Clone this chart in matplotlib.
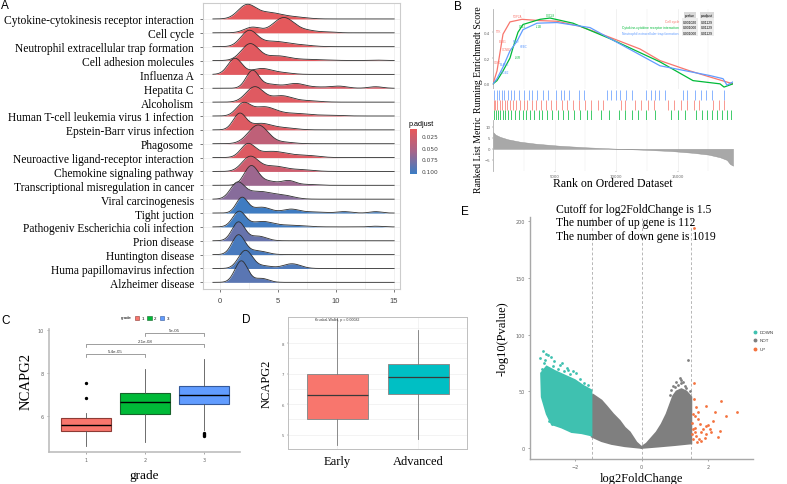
import numpy as np
import matplotlib.pyplot as plt
from matplotlib.colors import LinearSegmentedColormap, Normalize
from matplotlib.cm import ScalarMappable

W, H = 787, 485
SERIF = "Liberation Serif"
SANS = "Liberation Sans"

# ---------------- data : panel A (ridges) ----------------
pathways = ["Cytokine-cytokinesis receptor interaction", "Cell cycle",
            "Neutrophil extracellular trap formation", "Cell adhesion molecules",
            "Influenza A", "Hepatita C", "Alcoholism",
            "Human T-cell leukemia virus 1 infection", "Epstein-Barr virus infection",
            "Phagosome", "Neuroactive ligand-receptor interaction",
            "Chemokine signaling pathway", "Transcriptional misregulation in cancer",
            "Viral carcinogenesis", "Tight juction", "Pathogeniv Escherichia coli infection",
            "Prion disease", "Huntington disease", "Huma papillomavirus infection",
            "Alzheimer disease"]
padj = [0.012, 0.012, 0.014, 0.015, 0.015, 0.022, 0.017, 0.018, 0.018, 0.040,
        0.018, 0.030, 0.062, 0.072, 0.104, 0.103, 0.086, 0.100, 0.098, 0.092]
# peaks of each ridge: (centre, height in rows, width)
ridge_peaks = [
    [(2.3, 0.95, 0.75), (4.2, 0.45, 1.1), (6.5, 0.12, 1.0)],
    [(2.8, 0.40, 0.7), (5.5, 1.10, 0.9), (7.6, 0.15, 0.8), (9.4, 0.06, 0.6)],
    [(2.5, 1.10, 0.7), (4.6, 0.38, 1.2), (7.0, 0.10, 1.0)],
    [(2.6, 1.20, 0.75), (4.9, 0.32, 1.0), (7.5, 0.08, 1.5), (13.4, 0.03, 0.6)],
    [(1.3, 1.15, 0.6), (3.6, 0.42, 0.9), (5.5, 0.10, 0.8)],
    [(2.8, 1.25, 0.55), (4.3, 0.28, 0.8), (6.5, 0.33, 0.8), (8.5, 0.08, 1.0),
     (10.3, 0.14, 0.7), (13.4, 0.11, 0.6)],
    [(3.0, 1.10, 0.75), (5.3, 0.45, 0.9), (7.5, 0.10, 1.0)],
    [(2.0, 0.85, 0.6), (3.8, 0.65, 1.0), (6.5, 0.18, 1.2), (9.5, 0.05, 1.0)],
    [(1.7, 1.15, 0.55), (3.5, 0.45, 0.9), (5.5, 0.14, 1.0)],
    [(3.3, 1.35, 0.85), (5.6, 0.10, 0.8)],
    [(2.4, 0.90, 0.6), (4.5, 0.45, 1.3), (7.5, 0.14, 1.0)],
    [(2.6, 1.05, 0.7), (4.6, 0.38, 1.0), (7.0, 0.12, 1.0)],
    [(2.7, 1.40, 0.6), (4.2, 0.28, 0.7), (5.9, 0.33, 0.6), (7.5, 0.06, 0.8)],
    [(1.5, 1.10, 0.6), (3.3, 0.55, 1.1), (5.5, 0.24, 0.9)],
    [(1.9, 1.10, 0.5), (3.6, 0.42, 0.8), (6.1, 0.27, 0.7), (8.0, 0.08, 1.0),
     (10.7, 0.10, 0.6), (13.4, 0.10, 0.5)],
    [(1.65, 1.10, 0.55), (3.6, 0.38, 0.9), (6.0, 0.12, 1.2), (13.4, 0.05, 0.5)],
    [(1.6, 1.35, 0.55), (3.3, 0.33, 0.7)],
    [(1.6, 1.40, 0.55), (3.2, 0.28, 0.8)],
    [(2.2, 1.30, 0.6), (3.8, 0.18, 0.7), (6.2, 0.34, 0.75)],
    [(1.85, 1.55, 0.55), (3.6, 0.28, 0.6)],
]
padj_ticks = [0.025, 0.050, 0.075, 0.100]

# ---------------- data : panel B (GSEA) ----------------
gsea_names = ["Cell cycle", "Cytokine-cytokine receptor interaction",
              "Neutrophil extracellular trap formation"]
gsea_colors = ["#F8766D", "#00BA38", "#619CFF"]
gsea_pvalue = ["0.001020", "0.001000", "0.001000"]
gsea_padj = ["0.01129", "0.01129", "0.01129"]
es_rank = [
    [0, 325, 812, 1381, 2356, 3819, 5200, 7069, 9506, 11944, 13569, 16006, 17875, 19500],
    [0, 325, 812, 1381, 1625, 2031, 2437, 3819, 4631, 6500, 9506, 13569, 16250, 18444, 18769, 19500],
    [0, 325, 812, 1381, 1950, 2437, 3575, 5200, 7881, 13569, 17631, 18687, 19012, 19500],
]
es_score = [
    [0, 0.10, 0.385, 0.48, 0.50, 0.49, 0.485, 0.446, 0.36, 0.27, 0.18, 0.10, 0.046, 0.0],
    [0, 0.025, 0.10, 0.20, 0.28, 0.40, 0.46, 0.50, 0.51, 0.47, 0.35, 0.17, 0.025, 0.0, -0.025, 0.0],
    [0, 0.04, 0.13, 0.256, 0.33, 0.42, 0.47, 0.475, 0.436, 0.14, 0.064, 0.04, -0.01, 0.015],
]
hits_cell_cycle = [50, 200, 350, 550, 750, 950, 1150, 1400, 1650, 1900, 2200, 2500, 2800,
                   3200, 3500, 3900, 4300, 4700, 5100, 5600, 6000, 6500, 7000, 7500, 8000,
                   8500, 8900, 10400, 10700, 11500, 12000, 12600, 13100, 14200, 14700,
                   15300, 15800, 16300, 16700, 17900, 18400, 18800]
hits_cytokine = [100, 250, 400, 600, 800, 1000, 1200, 1500, 1800, 2100, 2400, 2700, 3000,
                 3300, 3700, 4000, 4400, 4800, 5300, 5700, 6100, 6600, 7100, 7600, 8000,
                 8800, 9400, 10200, 10700, 11300, 11800, 12400, 13200, 14500, 15000,
                 15600, 16500, 17000, 17400, 17800, 18200, 18600, 19000, 19300]
hits_neutrophil = [100, 300, 500, 700, 900, 1200, 1500, 1700, 2100, 2500, 2900, 3200,
                   3600, 4100, 4500, 5100, 5500, 5800, 6200, 7000, 7400, 9300, 9600,
                   10000, 10300, 10800, 11300, 12400, 12800, 13200, 13500, 14000, 15400,
                   15800, 16400, 16900, 17300, 17800, 18800]
metric_rank = [0, 200, 570, 1200, 2200, 3500, 5400, 7500, 10300, 12200, 14500, 16250,
               17500, 18440, 19000, 19250, 19500]
metric_value = [7.6, 6.4, 5.4, 4.3, 3.2, 2.3, 1.4, 0.7, 0.0, -0.4, -1.0, -1.8, -2.6,
                -3.8, -5.0, -6.8, -7.6]
gene_labels = [("TOP2A", 2000, 0.525, 0), ("TTK", 450, 0.41, 0), ("BUB1", 750, 0.33, 0),
               ("CCNB1", 1100, 0.27, 0), ("CDK1", 350, 0.17, 0),
               ("CXCL8", 4700, 0.535, 1), ("CCL5", 2400, 0.445, 1), ("IL1B", 3700, 0.445, 1),
               ("IL6R", 2000, 0.205, 1),
               ("MPO", 1900, 0.335, 2), ("H2BC", 2500, 0.29, 2), ("ELANE", 900, 0.15, 2),
               ("ITGB2", 1000, 0.09, 2)]

# ---------------- data : panel C (grade boxplot) ----------------
grades = ["1", "2", "3"]
grade_colors = ["#F8766D", "#00BA38", "#619CFF"]
grade_edges = ["#8E3B35", "#17632B", "#34599A"]
c_med = [5.62, 6.68, 7.01]
c_q1 = [5.32, 6.09, 6.57]
c_q3 = [5.94, 7.09, 7.43]
c_lo = [4.63, 4.82, 5.36]
c_hi = [6.17, 8.20, 8.67]
c_fliers = [[6.86, 7.55], [], [5.22, 5.17, 5.12, 5.07]]
brackets = [(1, 2, 8.90, "5.4e-05"), (1, 3, 9.34, "2.1e-08"), (2, 3, 9.87, "5e-05")]

# ---------------- data : panel D (stage boxplot) ----------------
stages = ["Early", "Advanced"]
stage_colors = ["#F8766D", "#00BFC4"]
d_med = [6.31, 6.89]
d_q1 = [5.53, 6.34]
d_q3 = [6.98, 7.33]
d_lo = [4.67, 4.86]
d_hi = [8.82, 8.42]

# ---------------- data : panel E (volcano) ----------------
down_poly_x = [-3.02, -2.85, -2.6, -2.3, -2.0, -1.75, -1.5, -1.5, -1.8, -2.1, -2.4, -2.7,
               -2.85, -3.0]
down_poly_y = [66, 72, 68, 64, 60, 55, 51, 11, 13, 14, 18, 21, 30, 45]
down_x = [-2.95, -2.88, -2.8, -2.72, -3.05, -2.92, -2.62, -2.45, -2.52, -2.25, -2.05,
          -2.15, -1.85, -1.72, -1.98, -2.66, -3.0, -2.32, -2.78, -2.7, -2.58, -1.62,
          -2.4, -2.9, -2.2]
down_y = [86, 83, 82, 80, 79, 75, 77, 73, 70, 71, 68, 65, 61, 57, 66, 72, 70, 68, 24,
          21, 26, 56, 75, 78, 69]
not_left_x = [-1.5, -1.45, -1.2, -1.05, -0.85, -0.65, -0.5, -0.35, -0.15, 0.0, 0.0,
              -0.5, -0.9, -1.2, -1.5]
not_left_y = [46, 47, 42, 37, 30, 24, 18, 14, 5, 1, 0, 1.5, 3.5, 6, 10]
not_right_x = [0.0, 0.15, 0.3, 0.45, 0.6, 0.75, 0.85, 0.95, 1.05, 1.2, 1.35, 1.5, 1.5,
               1.0, 0.5, 0.0]
not_right_y = [1, 4, 9, 14, 21, 30, 38, 46, 50, 52, 50, 45, 4, 2.5, 1.2, 0]
not_x = [0.95, 1.05, 1.15, 1.25, 1.1, 1.3, 1.4, 1.0, 0.9, 1.2, 1.35, 0.85, 1.45, 1.18]
not_y = [55, 58, 62, 58, 56, 55, 78, 54, 51, 57, 53, 47, 50, 60]
up_x = [1.58, 1.58, 2.4, 2.2, 2.55, 2.87, 1.93, 1.57, 1.63, 1.7, 1.95, 2.05, 2.35, 2.3,
        1.8, 1.65, 1.55, 2.15, 1.85, 1.75, 1.6, 1.56, 1.72, 1.95, 1.68, 1.52, 1.6, 1.78,
        1.9, 2.0, 1.53, 1.62, 2.1, 1.7, 1.55]
up_y = [194, 57, 41.7, 31.5, 28.5, 31.5, 37.3, 43, 36, 25.6, 19.7, 16.8, 15.3, 9.4,
        13.8, 10.9, 16.8, 24, 16.8, 21, 28.5, 8, 8, 12, 5, 22, 18, 6, 9, 20, 12, 14, 14,
        32, 30]
volcano_text = ["Cutoff for log2FoldChange is 1.5", "The number of up gene is 112",
                "The number of down gene is 1019"]
vol_colors = {"DOWN": "#3FC1B0", "NOT": "#7F7F7F", "UP": "#F4733F"}


def rect(l, t, r, b):
    return [l / W, 1 - b / H, (r - l) / W, (b - t) / H]


def fy(py):
    return 1 - py / H


fig = plt.figure(figsize=(W / 100, H / 100), dpi=100)

# panel letters
for letter, px, py in [("A", 5, 6), ("B", 458, 7), ("C", 6, 321), ("D", 246, 320),
                       ("E", 465, 212)]:
    fig.text(px / W, fy(py), letter, family=SANS, fontsize=8.5, ha="center", va="center")

# =============== A : ridgeline ===============
axA = fig.add_axes(rect(203, 4, 400, 290))
cmapA = LinearSegmentedColormap.from_list("padj", ["#E8585A", "#A6658A", "#3B7DC4"])
normA = Normalize(0.010, 0.106)
n = len(pathways)
xs = np.linspace(-0.6, 15.0, 600)
for i in range(n):
    base = n - 1 - i
    dens = np.zeros_like(xs)
    for c, h, s in ridge_peaks[i]:
        dens += h * np.exp(-0.5 * ((xs - c) / s) ** 2)
    axA.fill_between(xs, base, base + dens, color=cmapA(normA(padj[i])), lw=0, zorder=3 + i)
    axA.plot(xs, base + dens, color="#2e2e2e", lw=0.6, zorder=3 + i)
axA.set_xlim(-1.45, 15.5)
axA.set_ylim(-0.48, 20.15)
axA.set_yticks(range(n))
axA.set_yticklabels(pathways[::-1], family=SERIF, fontsize=8.3)
axA.set_xticks([0, 5, 10, 15])
axA.set_xticks([2.5, 7.5, 12.5], minor=True)
axA.tick_params(axis="x", labelsize=5.5, colors="#444444", length=2, width=0.5)
axA.tick_params(axis="x", which="minor", length=0)
axA.tick_params(axis="y", length=2.5, width=0.5, color="#444444", pad=4)
axA.grid(True, which="both", color="#EBEBEB", lw=0.5, zorder=0)
for s in axA.spines.values():
    s.set_color("#CCCCCC")
    s.set_linewidth(0.8)
for lab in axA.get_xticklabels():
    lab.set_family(SANS)

caxA = fig.add_axes(rect(410, 130, 417, 175))
cbA = fig.colorbar(ScalarMappable(norm=normA, cmap=cmapA), cax=caxA)
caxA.invert_yaxis()
cbA.set_ticks(padj_ticks)
cbA.set_ticklabels([f"{t:.3f}" for t in padj_ticks])
cbA.outline.set_visible(False)
caxA.tick_params(labelsize=4.2, colors="#444444", length=1.5, width=0.4, pad=2)
caxA.tick_params(axis="y", color="white")
fig.text(409 / W, fy(124), "p.adjust", family=SANS, fontsize=5.2, va="center")

# =============== B : GSEA ===============
xmax = 19500
axES = fig.add_axes(rect(493, 10, 733, 90))
axHit = fig.add_axes(rect(493, 90, 733, 121))
axRk = fig.add_axes(rect(493, 121, 733, 172))
for ax in (axES, axHit, axRk):
    ax.set_xlim(0, xmax)
    for s in ("top", "right", "bottom"):
        ax.spines[s].set_visible(False)
    ax.spines["left"].set_color("#B0B0B0")
    ax.spines["left"].set_linewidth(0.6)
for ax in (axES, axRk):
    for g in range(2500, xmax, 2500):
        ax.axvline(g, color="#EBEBEB", lw=0.5 if g % 5000 == 0 else 0.35, zorder=0)
for k in range(3):
    axES.plot(es_rank[k], es_score[k], color=gsea_colors[k], lw=0.9, zorder=3)
for name, r, e, k in gene_labels:
    axES.text(r, e, name, color=gsea_colors[k], fontsize=2.1, family=SANS,
              ha="center", va="center", zorder=4)
axES.set_ylim(-0.04, 0.58)
axES.set_yticks([0.0, 0.2, 0.4])
axES.set_yticklabels(["0.0", "0.2", "0.4"])
axES.set_xticks([])
axES.tick_params(axis="y", labelsize=2.8, colors="#666666", length=1, width=0.3, pad=1)

for k, hits in enumerate([hits_neutrophil, hits_cell_cycle, hits_cytokine]):
    col = [gsea_colors[2], gsea_colors[0], gsea_colors[1]][k]
    axHit.vlines(hits, 2 - k, 3 - k, color=col, lw=0.7, alpha=0.75)
axHit.set_ylim(-0.05, 3.05)
axHit.set_xticks([])
axHit.set_yticks([])
axHit.spines["left"].set_visible(False)

axRk.fill_between(metric_rank, 0, metric_value, color="#A8A8A8", lw=0.3, edgecolor="#909090")
axRk.set_ylim(-10, 13)
axRk.set_yticks([-5, 0, 5, 10])
axRk.set_xticks([5000, 10000, 15000])
axRk.tick_params(labelsize=2.8, colors="#666666", length=1, width=0.3, pad=1)
fig.text(613 / W, fy(184), "Rank on Ordered Dataset", family=SERIF, fontsize=8.5,
         ha="center", va="center")
fig.text(478 / W, fy(60), "Running Enrichmedt Score", family=SERIF, fontsize=7.0,
         rotation=90, ha="center", va="center")
fig.text(478 / W, fy(155), "Ranked List Metric", family=SERIF, fontsize=7.0,
         rotation=90, ha="center", va="center")

# GSEA table
fig.text(690 / W, fy(16.5), "pvalue", family=SANS, fontsize=2.4, ha="center", va="center",
         bbox=dict(boxstyle="square,pad=0.4", fc="#D9D9D9", ec="none"))
fig.text(707 / W, fy(16.5), "p.adjust", family=SANS, fontsize=2.4, ha="center", va="center",
         bbox=dict(boxstyle="square,pad=0.4", fc="#D9D9D9", ec="none"))
for k in range(3):
    yy = fy(22.5 + k * 5.7)
    fig.text(679 / W, yy, gsea_names[k], family=SANS, fontsize=2.4, ha="right",
             va="center", color=gsea_colors[k])
    fig.text(690 / W, yy, gsea_pvalue[k], family=SANS, fontsize=2.4, ha="center",
             va="center", bbox=dict(boxstyle="square,pad=0.4", fc="#EDEDED", ec="none"))
    fig.text(707 / W, yy, gsea_padj[k], family=SANS, fontsize=2.4, ha="center",
             va="center", bbox=dict(boxstyle="square,pad=0.4", fc="#EDEDED", ec="none"))

# =============== C : grade boxplot ===============
axC = fig.add_axes(rect(49, 330, 240, 453))
statsC = [dict(med=c_med[i], q1=c_q1[i], q3=c_q3[i], whislo=c_lo[i], whishi=c_hi[i],
               fliers=c_fliers[i]) for i in range(3)]
bpC = axC.bxp(statsC, positions=[1, 2, 3], widths=0.85, patch_artist=True, showcaps=False,
              whiskerprops=dict(color="#555555", lw=0.6),
              medianprops=dict(color="black", lw=1.0),
              flierprops=dict(marker="o", markersize=1.4, markerfacecolor="black",
                              markeredgecolor="black"))
for i, box in enumerate(bpC["boxes"]):
    box.set_facecolor(grade_colors[i])
    box.set_edgecolor(grade_edges[i])
    box.set_linewidth(0.8)
for x1, x2, yb, txt in brackets:
    axC.plot([x1, x1, x2, x2], [yb - 0.14, yb, yb, yb - 0.14], color="#777777", lw=0.5)
    axC.text((x1 + x2) / 2, yb + 0.06, txt, fontsize=3.2, family=SANS, ha="center",
             va="bottom", color="#333333")
axC.set_xlim(0.37, 3.61)
axC.set_ylim(4.35, 10.05)
axC.set_yticks([6, 8, 10])
axC.set_xticks([1, 2, 3])
axC.set_xticklabels(grades)
axC.tick_params(labelsize=3.5, colors="#666666", length=1.5, width=0.4, pad=2)
for s in ("top", "right"):
    axC.spines[s].set_visible(False)
for s in ("left", "bottom"):
    axC.spines[s].set_color("#BDBDBD")
    axC.spines[s].set_linewidth(1.2)
axC.set_xlabel("grade", family=SERIF, fontsize=9.5, labelpad=5)
axC.set_ylabel("NCAPG2", family=SERIF, fontsize=10.5)
axC.yaxis.set_label_coords(-0.085, 0.58)
# legend row on top
fig.text(121 / W, fy(318.5), "grade", family=SANS, fontsize=3.2, va="center")
for k, lx in enumerate([134.5, 147, 159.5]):
    fig.patches.append(plt.Rectangle((lx / W, fy(320.5)), 4.5 / W, 4 / H,
                                     transform=fig.transFigure, fc=grade_colors[k],
                                     ec=grade_edges[k], lw=0.4))
    fig.text((lx + 7) / W, fy(318.5), grades[k], family=SANS, fontsize=3.2, va="center")

# =============== D : stage boxplot ===============
axD = fig.add_axes(rect(288, 318, 467, 450))
statsD = [dict(med=d_med[i], q1=d_q1[i], q3=d_q3[i], whislo=d_lo[i], whishi=d_hi[i],
               fliers=[]) for i in range(2)]
bpD = axD.bxp(statsD, positions=[1, 2], widths=0.75, patch_artist=True, showcaps=False,
              whiskerprops=dict(color="#7A7A7A", lw=0.6),
              medianprops=dict(color="#3A3A3A", lw=0.9))
for i, box in enumerate(bpD["boxes"]):
    box.set_facecolor(stage_colors[i])
    box.set_edgecolor("#8C8C8C")
    box.set_linewidth(0.7)
axD.set_xlim(0.395, 2.6)
axD.set_ylim(4.53, 8.86)
axD.set_yticks([5, 6, 7, 8])
axD.set_yticks([5.5, 6.5, 7.5, 8.5], minor=True)
axD.set_xticks([1, 2])
axD.set_xticklabels(stages, family=SERIF, fontsize=9)
axD.grid(True, which="both", color="#EEEEEE", lw=0.5)
axD.set_axisbelow(True)
axD.tick_params(axis="y", labelsize=2.8, colors="#666666", length=1, width=0.3, pad=2)
axD.tick_params(axis="y", which="minor", length=0)
axD.tick_params(axis="x", length=1, width=0.3, colors="#666666", pad=3)
for lab in axD.get_xticklabels():
    lab.set_color("black")
for s in axD.spines.values():
    s.set_color("#BFBFBF")
    s.set_linewidth(0.7)
axD.set_ylabel("NCAPG2", family=SERIF, fontsize=9, labelpad=6)
axD.text(1.0, 8.78, "Kruskal-Wallis, p = 0.00082", fontsize=2.6, family=SANS,
         ha="center", va="center", color="#333333")

# =============== E : volcano ===============
axE = fig.add_axes(rect(530, 218, 753, 460))
axE.fill(not_left_x, not_left_y, color=vol_colors["NOT"], ec=vol_colors["NOT"], lw=1.2,
         zorder=2)
axE.fill(not_right_x, not_right_y, color=vol_colors["NOT"], ec=vol_colors["NOT"], lw=1.2,
         zorder=2)
axE.scatter(not_x, not_y, s=4, color=vol_colors["NOT"], lw=0, zorder=3)
axE.fill(down_poly_x, down_poly_y, color=vol_colors["DOWN"], ec=vol_colors["DOWN"], lw=1.2,
         zorder=2)
axE.scatter(down_x, down_y, s=4, color=vol_colors["DOWN"], lw=0, zorder=3)
axE.scatter(up_x, up_y, s=4, color=vol_colors["UP"], lw=0, zorder=3)
for v in (-1.5, 0, 1.5):
    axE.axvline(v, color="#9A9A9A", lw=0.5, ls=(0, (4, 3)), zorder=1)
axE.set_xlim(-3.35, 3.35)
axE.set_ylim(-9.7, 203.8)
axE.set_xticks([-2, 0, 2])
axE.set_yticks([0, 50, 100, 150, 200])
axE.tick_params(labelsize=3.5, colors="#666666", length=1.5, width=0.4, pad=2)
for s in ("top", "right"):
    axE.spines[s].set_visible(False)
for s in ("left", "bottom"):
    axE.spines[s].set_color("#A8A8A8")
    axE.spines[s].set_linewidth(1.0)
axE.set_xlabel("log2FoldChange", family=SERIF, fontsize=9, labelpad=2)
axE.set_ylabel("-log10(Pvalue)", family=SERIF, fontsize=9, labelpad=5)
for k, line in enumerate(volcano_text):
    fig.text(556.5 / W, fy(209.5 + k * 13.8), line, family=SERIF, fontsize=8.4,
             va="center")
for k, lab in enumerate(["DOWN", "NOT", "UP"]):
    yy = fy(332.5 + k * 8.6)
    fig.lines.append(plt.Line2D([755 / W], [yy], transform=fig.transFigure, marker="o",
                                markersize=1.8, color=vol_colors[lab], lw=0))
    fig.text(760 / W, yy, lab, family=SANS, fontsize=3.2, va="center", color="#333333")

fig.savefig("out.png", dpi=100)
